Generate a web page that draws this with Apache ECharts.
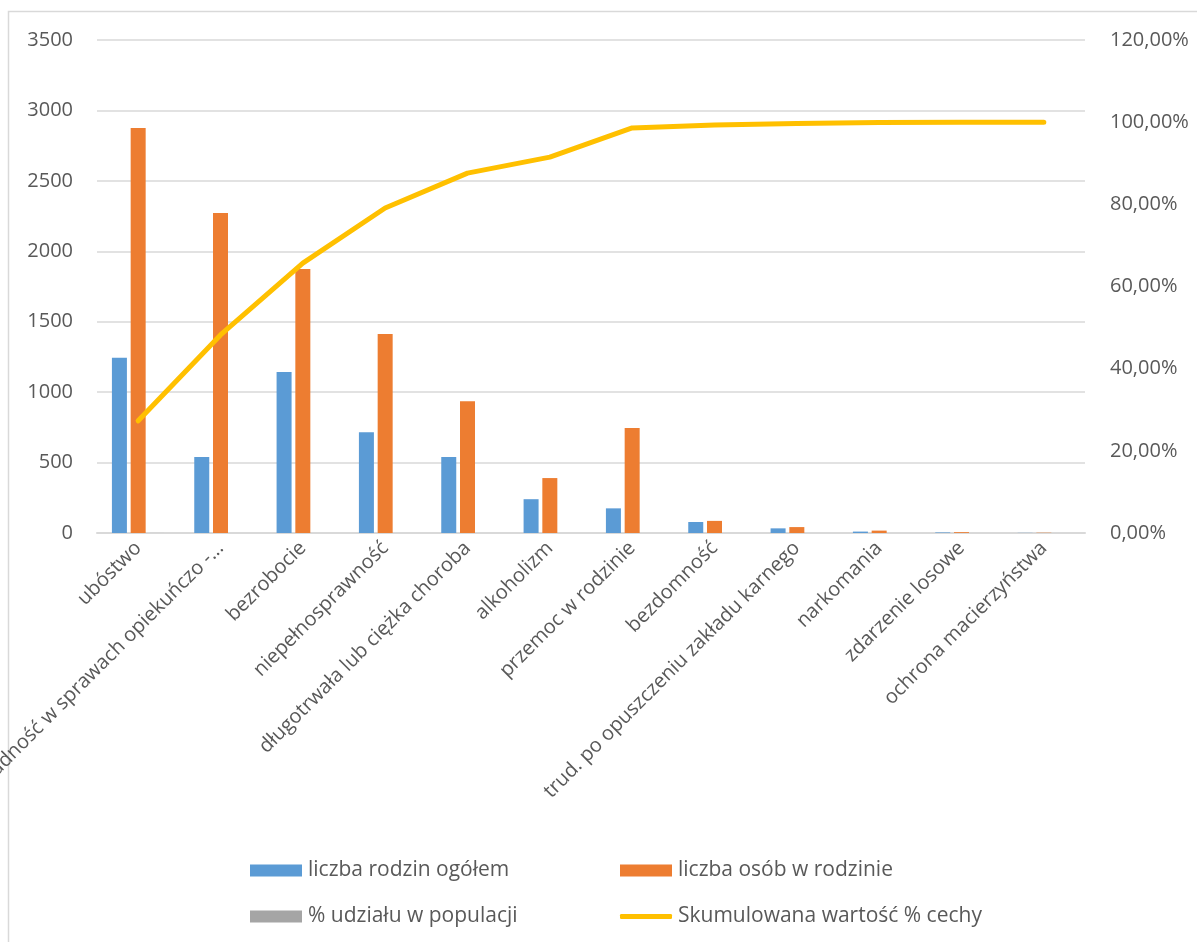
<!DOCTYPE html>
<html>
<head>
<meta charset="utf-8">
<script src="https://cdn.jsdelivr.net/npm/echarts@6/dist/echarts.min.js"></script>
<style>
  html, body { margin: 0; padding: 0; background: #fff; }
  #chart { width: 1197px; height: 942px; }
</style>
</head>
<body>
<div id="chart"></div>
<script>
// dane
var categories = ['ubóstwo', 'bezradność w sprawach opiekuńczo -...', 'bezrobocie', 'niepełnosprawność',
  'długotrwała lub ciężka choroba', 'alkoholizm', 'przemoc w rodzinie', 'bezdomność',
  'trud. po opuszczeniu zakładu karnego', 'narkomania', 'zdarzenie losowe', 'ochrona macierzyństwa'];
var rodziny = [1245, 540, 1143, 715, 540, 240, 175, 78, 33, 10, 4, 1];
var osoby = [2875, 2272, 1874, 1413, 935, 390, 745, 86, 42, 17, 6, 2];
var udzial = [0.273, 0.209, 0.175, 0.134, 0.085, 0.039, 0.071, 0.007, 0.004, 0.002, 0.001, 0.0];
var skumulowana = [27.3, 48.2, 65.7, 79.1, 87.6, 91.5, 98.6, 99.3, 99.7, 99.9, 100, 100];
var leftTicks = [0, 3500, 500];
var rightTicks = [0, 120, 20];

var textColor = '#595959';
var font = '"Open Sans", sans-serif';

var chart = echarts.init(document.getElementById('chart'));

function legendAt(name, left, top, h, icon) {
  return {
    data: [{ name: name, icon: icon || 'rect' }],
    left: left,
    top: top,
    padding: 0,
    itemWidth: 52,
    itemHeight: h,
    itemGap: 6,
    textStyle: { color: textColor, fontSize: 21, fontFamily: font, padding: [0, 0, 0, 1] }
  };
}

var option = {
  animation: false,
  backgroundColor: '#fff',
  graphic: [{
    type: 'rect',
    shape: { x: 8.5, y: 11.5, width: 1300, height: 1100 },
    style: { fill: 'none', stroke: '#d9d9d9', lineWidth: 1.5 },
    silent: true
  }],
  grid: { left: 97, right: 112, top: 40, bottom: 409, containLabel: false, outerBoundsMode: 'none' },
  legend: [
    legendAt('liczba rodzin ogółem', 250, 860, 12),
    legendAt('liczba osób w rodzinie', 620, 860, 12),
    legendAt('% udziału w populacji', 250, 906, 12),
    legendAt('Skumulowana wartość % cechy', 620, 906, 5, 'roundRect')
  ],
  xAxis: {
    type: 'category',
    data: categories,
    axisLine: { lineStyle: { color: '#d9d9d9', width: 2 } },
    axisTick: { show: false },
    axisLabel: {
      rotate: 45,
      interval: 0,
      margin: 12,
      color: textColor,
      fontSize: 20,
      fontFamily: font
    }
  },
  yAxis: [{
    type: 'value',
    min: leftTicks[0],
    max: leftTicks[1],
    interval: leftTicks[2],
    axisLine: { show: false },
    axisTick: { show: false },
    splitLine: { lineStyle: { color: '#d9d9d9', width: 1.5 } },
    axisLabel: {
      color: textColor, fontSize: 20, fontFamily: font, margin: 24,
      formatter: function (v) { return String(v); }
    }
  }, {
    type: 'value',
    min: rightTicks[0],
    max: rightTicks[1],
    interval: rightTicks[2],
    axisLine: { show: false },
    axisTick: { show: false },
    splitLine: { show: false },
    axisLabel: {
      color: textColor, fontSize: 20, fontFamily: font, margin: 25,
      formatter: function (v) { return v.toFixed(2).replace('.', ',') + '%'; }
    }
  }],
  series: [{
    name: 'liczba rodzin ogółem',
    type: 'bar',
    data: rodziny,
    barWidth: 15,
    barGap: '25%',
    itemStyle: { color: '#5B9BD5' }
  }, {
    name: 'liczba osób w rodzinie',
    type: 'bar',
    data: osoby,
    barWidth: 15,
    barGap: '25%',
    itemStyle: { color: '#ED7D31' }
  }, {
    name: '% udziału w populacji',
    type: 'bar',
    data: udzial,
    barWidth: 15,
    barGap: '25%',
    itemStyle: { color: '#A5A5A5' }
  }, {
    name: 'Skumulowana wartość % cechy',
    type: 'line',
    yAxisIndex: 1,
    data: skumulowana,
    symbol: 'none',
    lineStyle: { color: '#FFC000', width: 5, cap: 'round', join: 'round' },
    itemStyle: { color: '#FFC000' }
  }]
};

chart.setOption(option);
</script>
</body>
</html>
